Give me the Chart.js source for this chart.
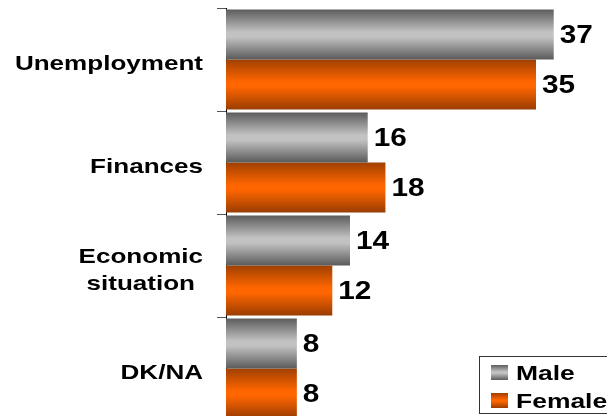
<!DOCTYPE html>
<html>
<head>
<meta charset="utf-8">
<script src="https://cdn.jsdelivr.net/npm/chart.js@4/dist/chart.umd.min.js"></script>
<style>
  html, body { margin: 0; padding: 0; background: #fff; overflow: hidden; }
  #wrap { width: 607px; height: 416px; overflow: hidden; }
</style>
</head>
<body>
<div id="wrap"><canvas id="chart" width="607" height="420"></canvas></div>
<script>
// Chart data
const categories = ["Unemployment", "Finances", ["Economic", "situation"], "DK/NA"];
const seriesNames = ["Male", "Female"];
const maleValues = [37, 16, 14, 8];
const femaleValues = [35, 18, 12, 8];

const CAT_PCT = 0.97;
const FONT = '"Liberation Sans", Arial, sans-serif';

const grayStops = [[0, "#5c5c5c"], [0.45, "#c2c2c2"], [0.55, "#c2c2c2"], [1, "#5a5a5a"]];
const orangeStops = [[0, "#a04000"], [0.45, "#ff6600"], [0.55, "#ff6600"], [1, "#9a3c00"]];

function makeGradient(ctx, top, height, stops) {
    const g = ctx.createLinearGradient(0, top, 0, top + height);
    stops.forEach(s => g.addColorStop(s[0], s[1]));
    return g;
}

// per-bar vertical gradient, positioned from the category scale
function barFill(stops) {
    return function (c) {
        const chart = c.chart;
        if (!chart.chartArea || c.type !== "data") return stops[1][1];
        const y = chart.scales.y;
        const center = y.getPixelForValue(c.dataIndex);
        const band = Math.abs(y.getPixelForValue(1) - y.getPixelForValue(0));
        const half = band * CAT_PCT / 2;
        const top = c.datasetIndex === 0 ? center - half : center;
        return makeGradient(chart.ctx, top, half, stops);
    };
}

function stretchedText(ctx, text, x, y, sx) {
    ctx.save();
    ctx.translate(x, y);
    ctx.scale(sx, 1);
    ctx.fillText(text, 0, 0);
    ctx.restore();
}

// category labels, value labels and legend (text is horizontally stretched in the original)
const textPlugin = {
    id: "stretchedText",
    afterDatasetsDraw(chart) {
        const ctx = chart.ctx;
        const yScale = chart.scales.y;
        ctx.save();
        ctx.fillStyle = "#000";
        ctx.textBaseline = "alphabetic";
        ctx.textAlign = "left";

        // category labels
        const catStretch = 1.24;
        ctx.font = "bold 21px " + FONT;
        categories.forEach((label, i) => {
            const lines = Array.isArray(label) ? label : [label];
            const cy = yScale.getPixelForValue(i);
            const lineH = 27;
            const widths = lines.map(l => ctx.measureText(l).width * catStretch);
            const blockW = Math.max(...widths);
            const firstBase = cy + 10.5 - (lines.length - 1) * lineH / 2;
            lines.forEach((line, k) => {
                const x = 203 - blockW + (blockW - widths[k]) / 2;
                stretchedText(ctx, line, x, firstBase + k * lineH, catStretch);
            });
        });

        // value labels
        ctx.font = "bold 25px " + FONT;
        chart.data.datasets.forEach((ds, di) => {
            chart.getDatasetMeta(di).data.forEach((el, i) => {
                stretchedText(ctx, String(ds.data[i]), el.x + 6, el.y + 8.5, 1.19);
            });
        });

        // legend
        ctx.fillStyle = "#fff";
        ctx.fillRect(479.5, 356.5, 140, 57);
        ctx.strokeStyle = "#333";
        ctx.lineWidth = 1;
        ctx.strokeRect(479.5, 356.5, 140, 57);
        const swatches = [grayStops, orangeStops];
        ctx.font = "bold 21px " + FONT;
        seriesNames.forEach((name, i) => {
            const top = 365 + i * 28;
            ctx.fillStyle = makeGradient(ctx, top, 15, swatches[i]);
            ctx.fillRect(491, top, 17, 15);
            ctx.fillStyle = "#000";
            stretchedText(ctx, name, 516, top + 15, 1.26);
        });
        ctx.restore();
    }
};

new Chart(document.getElementById("chart"), {
    type: "bar",
    data: {
        labels: categories,
        datasets: [
            {
                label: seriesNames[0],
                data: maleValues,
                backgroundColor: barFill(grayStops),
                borderWidth: 0
            },
            {
                label: seriesNames[1],
                data: femaleValues,
                backgroundColor: barFill(orangeStops),
                borderWidth: 0
            }
        ]
    },
    options: {
        indexAxis: "y",
        responsive: false,
        animation: false,
        categoryPercentage: CAT_PCT,
        barPercentage: 1,
        layout: { padding: { top: 8, right: 9, bottom: 0, left: 0 } },
        plugins: {
            legend: { display: false },
            tooltip: { enabled: false }
        },
        scales: {
            x: {
                type: "linear",
                min: 0,
                max: 42,
                display: false
            },
            y: {
                offset: true,
                grid: {
                    display: true,
                    offset: true,
                    drawOnChartArea: false,
                    drawTicks: true,
                    tickLength: 9,
                    color: "#555"
                },
                border: { display: true, color: "#000", width: 1 },
                ticks: { display: false },
                afterFit(scale) { scale.width = 226; }
            }
        }
    },
    plugins: [textPlugin]
});
</script>
</body>
</html>
